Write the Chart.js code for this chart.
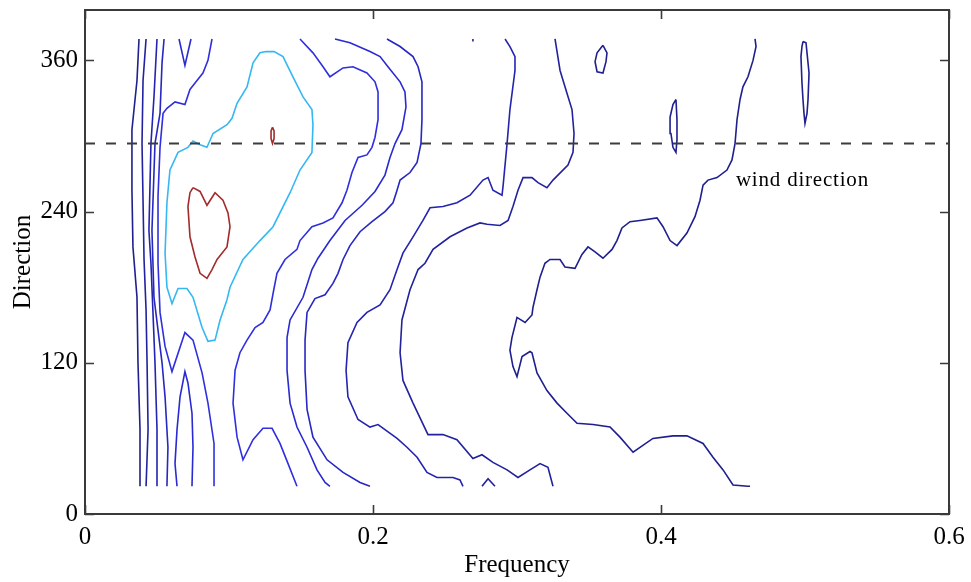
<!DOCTYPE html>
<html>
<head>
<meta charset="utf-8">
<script src="https://cdn.jsdelivr.net/npm/chart.js@4/dist/chart.umd.min.js"></script>
<style>
  html, body { margin: 0; padding: 0; background: #ffffff; }
  #c { display: block; }
</style>
</head>
<body>
<canvas id="c" width="971" height="582"></canvas>
<script>
// ---- axes / ticks ----
const xTicks = [0, 0.2, 0.4, 0.6];
const yTicks = [0, 120, 240, 360];
const xRange = [0, 0.6];
const yRange = [0, 400];
const windDirection = 294;               // dashed reference line (degrees)
const windLabel = { text: 'wind direction', x: 0.452, y: 265 };

// ---- contour lines: [frequency, direction] ----
const L1 = [[0.0375,377],[0.0361,344],[0.0326,305],[0.0326,257],[0.0333,212],[0.0361,172],[0.0368,120],[0.0382,67],[0.0382,22]];
const L2 = [[0.0424,377],[0.0403,344],[0.0396,294],[0.0403,249],[0.0410,202],[0.0424,162],[0.0431,120],[0.0438,67],[0.0424,22]];
const L3 = [[0.0500,377],[0.0479,331],[0.0458,294],[0.0444,225],[0.0458,199],[0.0472,160],[0.0486,120],[0.0500,67],[0.0500,22]];
const L4 = [[0.0549,377],[0.0535,358],[0.0521,318],[0.0486,294],[0.0465,225],[0.0479,172],[0.0507,146],[0.0535,120],[0.0556,93],[0.0576,53],[0.0569,22]];
const V  = [[0.0653,377],[0.0694,356],[0.0736,377]];
const lambda = [[0.0639,22],[0.0625,40],[0.0639,67],[0.0660,93],[0.0694,113],[0.0715,104],[0.0743,80],[0.0750,53],[0.0743,22]];
const C4 = [[0.0882,377],[0.0854,360],[0.0819,350],[0.0764,342],[0.0729,337],[0.0694,325],[0.0625,327],[0.0569,322],[0.0542,318],[0.0521,291],[0.0507,252],[0.0507,199],[0.0521,160],[0.0556,133],[0.0604,113],[0.0694,144],[0.0750,138],[0.0813,112],[0.0854,88],[0.0896,56],[0.0896,22]];
const cyan = [[0.1257,367],[0.1313,367],[0.1375,363],[0.1444,347],[0.1514,331],[0.1576,321],[0.1583,309],[0.1576,287],[0.1493,273],[0.1424,255],[0.1306,228],[0.1215,217],[0.1097,202],[0.1007,180],[0.0986,170],[0.0938,154],[0.0903,138],[0.0854,137],[0.0813,148],[0.0750,172],[0.0708,179],[0.0646,179],[0.0604,167],[0.0569,180],[0.0556,207],[0.0569,247],[0.0590,273],[0.0646,287],[0.0715,291],[0.0750,296],[0.0799,293],[0.0847,291],[0.0889,302],[0.0986,309],[0.1021,314],[0.1056,326],[0.1125,339],[0.1167,358],[0.1215,366],[0.1257,367]];
const heart = [[0.0750,259],[0.0799,256],[0.0847,245],[0.0903,255],[0.0958,249],[0.0993,239],[0.1007,228],[0.0986,212],[0.0917,202],[0.0882,194],[0.0847,187],[0.0799,191],[0.0764,204],[0.0729,220],[0.0715,244],[0.0729,255],[0.0750,259]];
const redSmall = [[0.1302,307],[0.1313,304],[0.1313,298],[0.1302,294],[0.1292,298],[0.1292,304],[0.1302,307]];
const C5 = [[0.1493,377],[0.1583,366],[0.1653,355],[0.1701,347],[0.1792,354],[0.1861,355],[0.1958,350],[0.2014,343],[0.2035,335],[0.2035,313],[0.2014,299],[0.1993,291],[0.1958,285],[0.1896,283],[0.1854,271],[0.1819,257],[0.1785,247],[0.1722,235],[0.1653,231],[0.1576,228],[0.1493,217],[0.1472,210],[0.1389,202],[0.1333,191],[0.1306,175],[0.1285,162],[0.1236,152],[0.1181,148],[0.1125,138],[0.1076,128],[0.1042,114],[0.1028,88],[0.1056,61],[0.1097,43],[0.1167,59],[0.1236,68],[0.1299,68],[0.1354,56],[0.1410,40],[0.1472,22]];
const C6 = [[0.1736,377],[0.1840,374],[0.1979,367],[0.2049,363],[0.2104,355],[0.2188,343],[0.2222,335],[0.2229,323],[0.2201,305],[0.2153,294],[0.2118,283],[0.2083,269],[0.2014,256],[0.1924,245],[0.1806,233],[0.1701,217],[0.1618,203],[0.1576,194],[0.1514,172],[0.1424,154],[0.1403,140],[0.1403,114],[0.1424,88],[0.1472,69],[0.1542,53],[0.1611,35],[0.1667,25],[0.1701,22]];
const C7 = [[0.2097,377],[0.2188,371],[0.2278,363],[0.2313,355],[0.2340,343],[0.2340,313],[0.2333,294],[0.2306,279],[0.2257,271],[0.2188,265],[0.2167,257],[0.2139,247],[0.2083,240],[0.1993,232],[0.1910,224],[0.1840,213],[0.1792,202],[0.1757,191],[0.1722,183],[0.1667,174],[0.1597,171],[0.1542,160],[0.1528,138],[0.1528,114],[0.1542,83],[0.1583,61],[0.1681,43],[0.1792,33],[0.1910,25],[0.1979,22]];
const C8 = [[0.2917,377],[0.2951,371],[0.2986,363],[0.2986,352],[0.2951,321],[0.2931,294],[0.2903,260],[0.2896,253],[0.2833,257],[0.2799,267],[0.2764,265],[0.2674,253],[0.2583,247],[0.2486,244],[0.2396,243],[0.2347,233],[0.2278,220],[0.2208,207],[0.2167,194],[0.2118,178],[0.2049,166],[0.1958,160],[0.1889,152],[0.1826,136],[0.1813,114],[0.1826,93],[0.1896,75],[0.1979,69],[0.2035,71],[0.2167,60],[0.2236,53],[0.2306,45],[0.2375,33],[0.2444,29],[0.2556,29],[0.2604,27],[0.2625,22]];
const C9 = [[0.2757,22],[0.2799,28],[0.2847,22]];
const dot = [[0.2694,377],[0.2694,375]];
const C10 = [[0.3264,377],[0.3299,352],[0.3347,334],[0.3382,321],[0.3396,302],[0.3389,287],[0.3354,277],[0.3250,265],[0.3208,259],[0.3146,263],[0.3104,267],[0.3042,267],[0.3007,257],[0.2972,244],[0.2938,233],[0.2882,229],[0.2792,230],[0.2743,231],[0.2653,227],[0.2535,220],[0.2417,210],[0.2361,199],[0.2313,194],[0.2257,178],[0.2201,154],[0.2188,128],[0.2208,106],[0.2278,88],[0.2382,63],[0.2486,63],[0.2583,59],[0.2694,44],[0.2757,47],[0.2833,41],[0.2931,35],[0.3007,29],[0.3090,35],[0.3160,40],[0.3215,37],[0.3250,22]];
const C11 = [[0.4653,377],[0.4660,371],[0.4639,360],[0.4604,347],[0.4569,339],[0.4549,329],[0.4528,313],[0.4514,294],[0.4493,281],[0.4458,273],[0.4389,267],[0.4326,265],[0.4292,261],[0.4271,249],[0.4236,236],[0.4180,223],[0.4111,213],[0.4063,217],[0.4014,228],[0.3972,235],[0.3854,233],[0.3785,232],[0.3729,227],[0.3694,217],[0.3660,210],[0.3597,203],[0.3542,208],[0.3493,212],[0.3451,206],[0.3403,195],[0.3333,196],[0.3299,202],[0.3229,202],[0.3194,199],[0.3160,188],[0.3139,178],[0.3111,164],[0.3104,158],[0.3056,152],[0.3000,156],[0.2965,140],[0.2951,130],[0.2972,117],[0.3000,109],[0.3035,125],[0.3090,129],[0.3104,128],[0.3139,112],[0.3208,98],[0.3278,88],[0.3347,80],[0.3417,72],[0.3528,71],[0.3646,69],[0.3715,61],[0.3806,49],[0.3944,60],[0.4083,62],[0.4180,62],[0.4292,56],[0.4361,45],[0.4431,35],[0.4500,23],[0.4604,22],[0.4618,22]];
const loopA = [[0.3597,372],[0.3625,366],[0.3618,359],[0.3597,350],[0.3556,351],[0.3542,359],[0.3556,366],[0.3597,372]];
const loopB = [[0.4104,329],[0.4111,313],[0.4111,297],[0.4104,287],[0.4083,291],[0.4069,302],[0.4063,315],[0.4083,325],[0.4104,329]];
const loopC = [[0.4986,375],[0.5007,374],[0.5014,366],[0.5028,350],[0.5021,329],[0.5014,318],[0.5000,310],[0.4993,318],[0.4986,329],[0.4979,342],[0.4972,363],[0.4979,371],[0.4986,375]];

// ---- level colours ----
const lev1 = '#1f1f8e', lev2 = '#22229e', lev3 = '#2424b0', lev4 = '#2727c2',
      lev5 = '#2a2ad2', lev6 = '#2f2fe0', levCyan = '#35b8f2', levRed = '#a32b2b';

const contours = [
  [L1, lev1], [C11, lev1], [loopA, lev1], [loopB, lev1], [loopC, lev1],
  [L2, lev2], [C10, lev2], [C9, lev2], [dot, lev2],
  [L3, lev3], [C8, lev3],
  [L4, lev4], [C7, lev4],
  [V, lev5], [lambda, lev5], [C6, lev5],
  [C4, lev6], [C5, lev6],
  [cyan, levCyan],
  [heart, levRed], [redSmall, levRed]
];

const toXY = arr => arr.map(p => ({ x: p[0], y: p[1] }));

const datasets = [{
  data: toXY([[xRange[0], windDirection], [xRange[1], windDirection]]),
  borderColor: '#3c3c3c', borderWidth: 2, borderDash: [10, 11],
  showLine: true, pointRadius: 0, fill: false
}].concat(contours.map(c => ({
  data: toXY(c[0]),
  borderColor: c[1], borderWidth: 1.6,
  showLine: true, pointRadius: 0, fill: false, tension: 0
})));

const SERIF = '"Liberation Serif", "DejaVu Serif", serif';

const framePlugin = {
  id: 'frame',
  afterDatasetsDraw(chart) {
    const { ctx, chartArea: a, scales: { x, y } } = chart;
    ctx.save();
    ctx.strokeStyle = '#3a3a3a';
    ctx.lineWidth = 2;
    ctx.strokeRect(a.left, a.top, a.right - a.left, a.bottom - a.top);
    ctx.lineWidth = 1.6;
    ctx.beginPath();
    x.ticks.forEach(t => {
      const px = Math.round(x.getPixelForValue(t.value)) + 0.5;
      ctx.moveTo(px, a.bottom); ctx.lineTo(px, a.bottom - 9);
      ctx.moveTo(px, a.top); ctx.lineTo(px, a.top + 9);
    });
    y.ticks.forEach(t => {
      const py = Math.round(y.getPixelForValue(t.value)) + 0.5;
      ctx.moveTo(a.left, py); ctx.lineTo(a.left + 9, py);
      ctx.moveTo(a.right, py); ctx.lineTo(a.right - 9, py);
    });
    ctx.stroke();
    ctx.fillStyle = '#000';
    ctx.font = '21px ' + SERIF;
    try { ctx.letterSpacing = '0.8px'; } catch (e) {}
    ctx.textAlign = 'left';
    ctx.textBaseline = 'middle';
    ctx.fillText(windLabel.text, x.getPixelForValue(windLabel.x), y.getPixelForValue(windLabel.y));
    ctx.restore();
  }
};

new Chart(document.getElementById('c'), {
  type: 'scatter',
  data: { datasets },
  options: {
    responsive: false,
    devicePixelRatio: 1,
    animation: false,
    layout: { padding: { top: 10, right: 22, left: 0, bottom: 0 } },
    plugins: { legend: { display: false }, tooltip: { enabled: false } },
    scales: {
      x: {
        type: 'linear', min: xRange[0], max: xRange[1],
        afterBuildTicks: s => { s.ticks = xTicks.map(v => ({ value: v })); },
        afterFit: s => { s.height = 68; s.paddingLeft = 0; s.paddingRight = 0; },
        grid: { display: false, drawTicks: false },
        border: { display: false },
        ticks: { padding: 8, color: '#000', font: { family: SERIF, size: 25 }, maxRotation: 0 },
        title: { display: true, text: 'Frequency', color: '#000', font: { family: SERIF, size: 25 }, padding: { top: 0, bottom: 2 } }
      },
      y: {
        type: 'linear', min: yRange[0], max: yRange[1],
        afterBuildTicks: s => { s.ticks = yTicks.map(v => ({ value: v })); },
        afterFit: s => { s.width = 85; s.paddingTop = 0; s.paddingBottom = 0; },
        grid: { display: false, drawTicks: false },
        border: { display: false },
        ticks: { padding: 7, color: '#000', font: { family: SERIF, size: 25 } },
        title: { display: true, text: 'Direction', color: '#000', font: { family: SERIF, size: 25 }, padding: { top: 8, bottom: 0 } }
      }
    }
  },
  plugins: [framePlugin]
});
</script>
</body>
</html>
